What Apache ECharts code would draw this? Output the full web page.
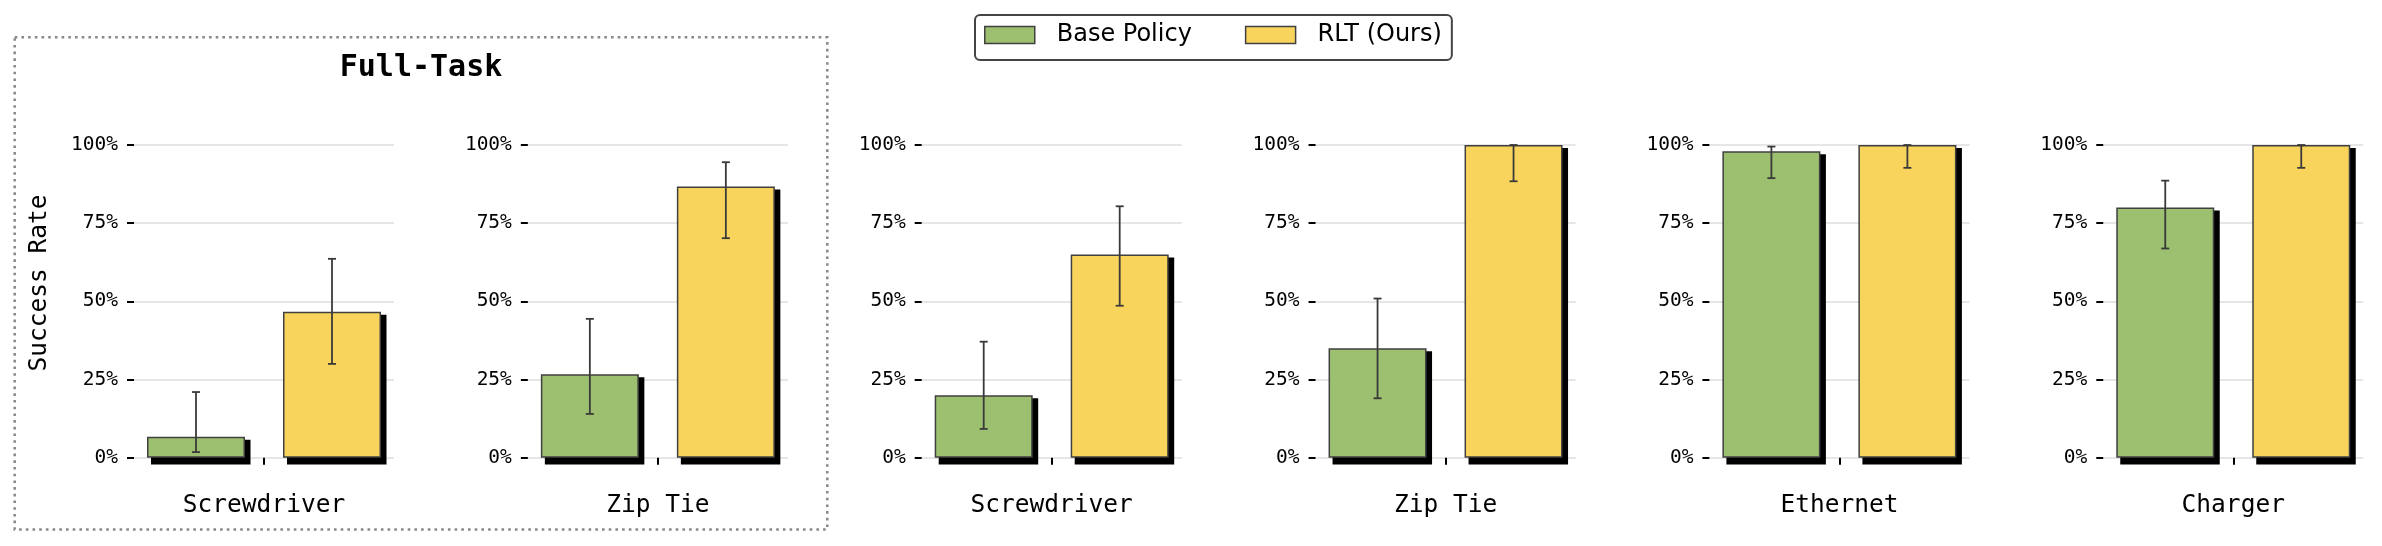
<!DOCTYPE html>
<html><head><meta charset="utf-8">
<script src="https://cdn.jsdelivr.net/npm/echarts@6/dist/echarts.min.js"></script>
<style>html,body{margin:0;padding:0;background:#fff}#c{width:2382px;height:546px}</style>
</head><body><div id="c"></div>
<script>
// ---- data ----
const categories = ['Screwdriver', 'Zip Tie', 'Screwdriver', 'Zip Tie', 'Ethernet', 'Charger'];
const seriesNames = ['Base Policy', 'RLT (Ours)'];
const baseValues = [6.7, 26.7, 20, 35, 98, 80];
const rltValues = [46.7, 86.7, 65, 100, 100, 100];
const baseErrLow = [1.8, 14, 9.2, 19, 89.4, 66.9];
const baseErrHigh = [21, 44.4, 37.1, 50.9, 99.5, 88.6];
const rltErrLow = [30, 70.2, 48.6, 88.4, 92.7, 92.7];
const rltErrHigh = [63.6, 94.5, 80.4, 100, 100, 100];
const yTicks = [0, 25, 50, 75, 100];
const groupTitle = 'Full-Task';
const yAxisTitle = 'Success Rate';

// ---- style / layout ----
const GREEN = '#9cbf70', YELLOW = '#f9d45c', EDGE = '#404040', ERR = '#3a3a3a';
const MONO = 'DejaVu Sans Mono';
const BAR_W = 98, GAP = 38;
const PANEL_STEP = 393.85, FIRST_CENTER = 264, HALF = 130, TOP = 145, H = 312.7;

const grids = [], xAxes = [], yAxes = [], series = [];
categories.forEach((cat, i) => {
  const c = FIRST_CENTER + PANEL_STEP * i;
  grids.push({left: c - HALF, width: HALF * 2, top: TOP, height: H});
  xAxes.push({
    type: 'category', gridIndex: i, data: [cat], offset: 13,
    axisLine: {show: false},
    axisTick: {show: true, alignWithLabel: true, length: 7, lineStyle: {color: '#000', width: 2}},
    axisLabel: {margin: 22, fontFamily: MONO, fontSize: 24.5, color: '#000'},
    splitLine: {show: false}
  });
  yAxes.push({
    type: 'value', gridIndex: i, min: yTicks[0], max: yTicks[yTicks.length - 1], interval: yTicks[1] - yTicks[0],
    axisLine: {show: false},
    axisTick: {show: true, length: 7, lineStyle: {color: '#000', width: 2}},
    axisLabel: {margin: 16, fontFamily: MONO, fontSize: 19.5, color: '#000', formatter: '{value}%'},
    splitLine: {show: true, lineStyle: {color: '#e6e6e6', width: 2}}
  });
  const common = {type: 'bar', xAxisIndex: i, yAxisIndex: i, barWidth: BAR_W, barGap: (GAP / BAR_W * 100) + '%', z: 3};
  series.push(Object.assign({}, common, {name: seriesNames[0], data: [baseValues[i]],
    itemStyle: {color: GREEN, borderColor: EDGE, borderWidth: 1.5}}));
  series.push(Object.assign({}, common, {name: seriesNames[1], data: [rltValues[i]],
    itemStyle: {color: YELLOW, borderColor: EDGE, borderWidth: 1.5}}));
  // drop shadows beneath the bars
  series.push({
    type: 'custom', xAxisIndex: i, yAxisIndex: i, z: 2, silent: true,
    data: [[0, baseValues[i], -1], [0, rltValues[i], 1]],
    renderItem: (params, api) => {
      const top = api.coord([api.value(0), api.value(1)]);
      const bot = api.coord([api.value(0), 0]);
      const xc = top[0] + api.value(2) * (BAR_W + GAP) / 2;
      return {type: 'rect',
        shape: {x: xc - BAR_W / 2 + 4, y: top[1] + 3, width: BAR_W + 1.5, height: bot[1] - top[1] + 3.7},
        style: {fill: '#000'}};
    }
  });
  // error bars
  series.push({
    type: 'custom', xAxisIndex: i, yAxisIndex: i, z: 5, silent: true,
    data: [[0, baseErrLow[i], baseErrHigh[i], -1], [0, rltErrLow[i], rltErrHigh[i], 1]],
    renderItem: (params, api) => {
      const lo = api.coord([api.value(0), api.value(1)]);
      const hi = api.coord([api.value(0), api.value(2)]);
      const x = lo[0] + api.value(3) * (BAR_W + GAP) / 2;
      const st = {stroke: ERR, lineWidth: 1.8};
      return {type: 'group', children: [
        {type: 'line', shape: {x1: x, y1: lo[1], x2: x, y2: hi[1]}, style: st},
        {type: 'line', shape: {x1: x - 4, y1: lo[1], x2: x + 4, y2: lo[1]}, style: st},
        {type: 'line', shape: {x1: x - 4, y1: hi[1], x2: x + 4, y2: hi[1]}, style: st}
      ]};
    }
  });
});

const chart = echarts.init(document.getElementById('c'), null, {renderer: 'canvas'});
chart.setOption({
  animation: false,
  backgroundColor: '#fff',
  grid: grids, xAxis: xAxes, yAxis: yAxes, series: series,
  legend: {
    data: seriesNames, left: 975, top: 15, orient: 'horizontal',
    icon: 'rect', itemWidth: 50, itemHeight: 17, itemGap: 53,
    padding: [8, 10, 13, 9],
    borderColor: '#444', borderWidth: 2, borderRadius: 5, backgroundColor: '#fff',
    itemStyle: {borderWidth: 1.5, borderColor: EDGE},
    textStyle: {fontFamily: 'DejaVu Sans', fontSize: 24, color: '#000', padding: [0, 0, 0, 17]}
  },
  graphic: [
    {type: 'rect', silent: true, z: 0,
     shape: {x: 14.7, y: 37.3, width: 812.6, height: 492.3},
     style: {fill: 'none', stroke: '#888', lineWidth: 2.5, lineDash: [2.6, 4.1]}},
    {type: 'text', x: 421, y: 68, z: 10,
     style: {text: groupTitle, font: 'bold 30px "DejaVu Sans Mono"', fill: '#000', textAlign: 'center', textVerticalAlign: 'middle'}},
    {type: 'text', x: 40, y: 283, rotation: Math.PI / 2, z: 10,
     style: {text: yAxisTitle, font: '24.5px "DejaVu Sans Mono"', fill: '#000', textAlign: 'center', textVerticalAlign: 'middle'}}
  ]
});
</script>
</body></html>
